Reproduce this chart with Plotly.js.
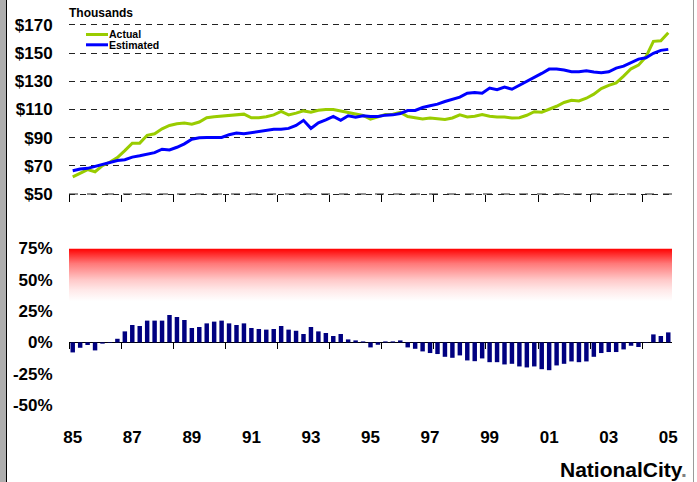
<!DOCTYPE html>
<html>
<head>
<meta charset="utf-8">
<script src="https://cdn.plot.ly/plotly-3.0.1.min.js"></script>
<style>
  html, body { margin: 0; padding: 0; background: #ffffff; }
  #chart { width: 697px; height: 482px; }
</style>
</head>
<body>
<div id="chart"></div>
<script>
// ---------- DATA (quarterly, 1985 Q1 .. 2005 Q1) ----------
const actual = [
  62.1, 64.9, 67.3, 65.8, 70.1, 72.7, 75.9, 80.8, 86.1, 86.1,
  91.7, 92.8, 96.3, 98.7, 99.9, 100.4, 99.6, 101.1, 104.1, 104.8,
  105.3, 106.0, 106.0, 106.7, 104.1, 104.1, 104.8, 106.2, 108.6, 106.2,
  107.4, 109.0, 108.1, 109.5, 110.0, 110.0, 109.0, 107.9, 106.4, 105.8,
  103.2, 104.7, 106.4, 106.6, 107.9, 105.0, 104.0, 103.3, 104.0, 103.3,
  102.9, 104.0, 106.2, 104.7, 105.2, 106.4, 105.2, 104.7, 104.7, 104.0,
  104.2, 105.9, 108.4, 108.1, 110.0, 112.3, 115.0, 116.6, 116.1, 118.0,
  120.9, 124.9, 127.1, 128.9, 133.7, 138.9, 141.5, 147.4, 158.4, 158.8,
  164.5
];
const estimated = [
  66.5, 67.7, 68.2, 69.6, 71.3, 72.7, 73.8, 74.3, 76.2, 77.1,
  78.3, 79.4, 81.8, 81.3, 83.2, 85.6, 88.9, 90.0, 90.1, 90.1,
  90.1, 92.1, 93.3, 92.8, 93.5, 94.7, 95.2, 95.9, 95.9, 96.6,
  98.7, 102.3, 96.6, 100.6, 102.7, 105.1, 102.3, 105.5, 104.6, 105.5,
  105.0, 105.0, 106.0, 106.2, 107.2, 109.3, 109.3, 111.4, 112.6, 113.8,
  115.7, 117.5, 118.8, 121.6, 122.1, 121.6, 125.2, 124.0, 125.9, 124.4,
  127.1, 130.1, 132.5, 135.6, 138.7, 138.7, 138.0, 136.8, 136.8, 137.5,
  136.6, 136.1, 136.8, 139.4, 140.8, 143.2, 145.8, 146.7, 149.9, 152.0,
  152.7
];
// over/under valuation, percent
const valuation = [
  -8.0, -4.3, -2.1, -6.4, -1.0, -0.5, 2.9, 8.8, 13.9, 13.1,
  17.4, 17.4, 17.4, 21.9, 20.3, 17.9, 11.5, 12.3, 15.2, 16.6,
  17.4, 15.2, 13.9, 15.2, 11.5, 10.7, 10.2, 10.7, 13.1, 10.2,
  9.3, 6.7, 12.3, 8.8, 7.5, 5.1, 6.7, 2.4, 1.6, 0.8,
  -4.0, -1.9, 0.8, 0.8, 1.6, -4.0, -5.1, -7.2, -8.5, -9.3,
  -11.5, -12.3, -10.4, -14.4, -15.0, -12.8, -15.8, -15.8, -17.6, -17.1,
  -19.2, -20.0, -19.2, -21.4, -22.2, -18.4, -17.1, -15.2, -15.8, -15.2,
  -11.5, -8.5, -7.7, -7.7, -5.6, -2.7, -3.7, 0.3, 6.4, 5.1,
  8.0
];
const yearLabels = ['85', '87', '89', '91', '93', '95', '97', '99', '01', '03', '05'];
const yearLabelPos = [0, 8, 16, 24, 32, 40, 48, 56, 64, 72, 80];
const priceTicks = [50, 70, 90, 110, 130, 150, 170];
const priceTickText = ['$50', '$70', '$90', '$110', '$130', '$150', '$170'];
const pctTicks = [-50, -25, 0, 25, 50, 75];
const pctTickText = ['-50%', '-25%', '0%', '25%', '50%', '75%'];
const seriesNames = ['Actual', 'Estimated'];

// ---------- helpers ----------
const W = 697, H = 482;
const px = p => p / W;
const py = p => 1 - p / H;
const idx = actual.map((_, i) => i);
const tickBounds = [];
for (let b = -0.5; b < idx.length - 1; b += 7) tickBounds.push(b);

const FONT = 'Liberation Sans, Arial, Helvetica, sans-serif';
const GREEN = '#99CC00', BLUE = '#0000FF', NAVY = '#000080';
const GRID = { color: '#222', width: 1, dash: '6px,5px' };

const plotLeft = 69, plotRight = 672;
const xDomain = [px(plotLeft), px(plotRight)];
const xRange = [-0.5, idx.length - 0.5];
// top panel: $50 at y=194px, $170 at y=25px; range padded so edge gridlines show
const topBase = 194, topTop = 25;
const topPad = 3;
const pxPerUnit = (topBase - topTop) / 120;
const topDomain = [py(topBase + topPad * pxPerUnit), py(topTop - topPad * pxPerUnit)];
const topRange = [priceTicks[0] - topPad, priceTicks[priceTicks.length - 1] + topPad];
const botDomain = [py(405), py(248.5)];
const botRange = [-50, 75];
const zeroPos = botDomain[0] + (0 - botRange[0]) / (botRange[1] - botRange[0]) * (botDomain[1] - botDomain[0]);
const zoneLow = 33, zoneHigh = 75;

const traces = [
  {
    x: [xRange[0], xRange[1], xRange[1], xRange[0], xRange[0]],
    y: [zoneLow, zoneLow, zoneHigh, zoneHigh, zoneLow],
    xaxis: 'x3', yaxis: 'y2',
    type: 'scatter', mode: 'lines', line: { width: 0 },
    fill: 'toself',
    fillgradient: {
      type: 'vertical',
      colorscale: [[0, '#FFFFFF'], [0.214, '#FFE8E8'], [0.405, '#FFC8C8'], [0.714, '#FF7878'], [1, '#FF0000']]
    },
    hoverinfo: 'skip', showlegend: false
  },
  // base rule of the top panel (lowest price tick), dashed like the gridlines
  {
    x: xRange, y: [priceTicks[0], priceTicks[0]], xaxis: 'x', yaxis: 'y',
    type: 'scatter', mode: 'lines',
    line: { color: GRID.color, width: GRID.width, dash: 'dash' },
    hoverinfo: 'skip', showlegend: false
  },
  {
    x: idx, y: valuation, xaxis: 'x2', yaxis: 'y2', type: 'bar',
    marker: { color: NAVY }, width: 0.6, showlegend: false
  },
  {
    x: idx, y: actual, xaxis: 'x', yaxis: 'y', type: 'scatter', mode: 'lines',
    name: seriesNames[0], line: { color: GREEN, width: 3 }, showlegend: false
  },
  {
    x: idx, y: estimated, xaxis: 'x', yaxis: 'y', type: 'scatter', mode: 'lines',
    name: seriesNames[1], line: { color: BLUE, width: 3 }, showlegend: false
  }
];

const tickFont = { family: FONT, size: 17, color: '#000', weight: 'bold' };
const legendFont = { family: FONT, size: 10.5, color: '#000', weight: 'bold' };

const layout = {
  width: W, height: H,
  margin: { l: 0, r: 0, t: 0, b: 0 },
  paper_bgcolor: '#FFFFFF', plot_bgcolor: 'rgba(0,0,0,0)',
  showlegend: false,
  xaxis: {
    domain: xDomain, range: xRange, anchor: 'free', position: py(topBase),
    tickmode: 'array', tickvals: tickBounds, ticks: 'outside', ticklen: 7, tickwidth: 1, tickcolor: '#000',
    showticklabels: false, showgrid: false, zeroline: false, showline: false, fixedrange: true
  },
  yaxis: {
    domain: topDomain, range: topRange, anchor: 'x',
    tickmode: 'array', tickvals: priceTicks, ticktext: priceTickText,
    ticks: 'outside', ticklen: 12, tickcolor: 'rgba(0,0,0,0)', tickfont: tickFont,
    showgrid: true, gridcolor: GRID.color, gridwidth: GRID.width, griddash: GRID.dash,
    zeroline: false, showline: false, fixedrange: true
  },
  xaxis2: {
    domain: xDomain, range: xRange, anchor: 'y2',
    tickmode: 'array', tickvals: yearLabelPos, ticktext: yearLabels,
    ticks: 'outside', ticklen: 17, tickcolor: 'rgba(0,0,0,0)', tickfont: tickFont,
    showgrid: false, zeroline: false, showline: false, fixedrange: true
  },
  yaxis2: {
    domain: botDomain, range: botRange, anchor: 'x2',
    tickmode: 'array', tickvals: pctTicks, ticktext: pctTickText,
    ticks: 'outside', ticklen: 12, tickcolor: 'rgba(0,0,0,0)', tickfont: tickFont,
    showgrid: false, zeroline: true, zerolinecolor: '#000', zerolinewidth: 1.5,
    showline: false, fixedrange: true
  },
  xaxis3: {
    overlaying: 'x2', anchor: 'free', position: zeroPos, range: xRange,
    tickmode: 'array', tickvals: tickBounds, ticks: 'outside', ticklen: 6, tickwidth: 1, tickcolor: '#000',
    showticklabels: false, showgrid: false, zeroline: false, showline: false, fixedrange: true
  },
  annotations: [
    { text: 'Thousands', xref: 'paper', yref: 'paper', x: px(67), y: py(13), xanchor: 'left', yanchor: 'middle',
      showarrow: false, font: { family: FONT, size: 12, color: '#000', weight: 'bold' } },
    { text: seriesNames[0], xref: 'paper', yref: 'paper', x: px(107.5), y: py(34.3), xanchor: 'left', yanchor: 'middle',
      borderpad: 0, showarrow: false, font: legendFont },
    { text: seriesNames[1], xref: 'paper', yref: 'paper', x: px(107.5), y: py(45.2), xanchor: 'left', yanchor: 'middle',
      borderpad: 0, showarrow: false, font: legendFont },
    { text: 'NationalCity<span style="color:#808080">.</span>', xref: 'paper', yref: 'paper',
      x: px(689), y: py(469), xanchor: 'right', yanchor: 'middle',
      showarrow: false, font: { family: FONT, size: 21, color: '#000', weight: 'bold' } }
  ],
  shapes: [
    { type: 'line', xref: 'paper', yref: 'paper', x0: px(86), x1: px(108), y0: py(34.5), y1: py(34.5),
      line: { color: GREEN, width: 3 } },
    { type: 'line', xref: 'paper', yref: 'paper', x0: px(86), x1: px(108), y0: py(44.8), y1: py(44.8),
      line: { color: BLUE, width: 3 } },
    { type: 'rect', xref: 'paper', yref: 'paper', x0: 0, x1: px(6), y0: 0, y1: 1,
      fillcolor: '#ADADAD', line: { width: 0 } },
    { type: 'line', xref: 'paper', yref: 'paper', x0: px(6.5), x1: px(6.5), y0: 0, y1: 1,
      line: { color: '#000', width: 1 } },
    { type: 'line', xref: 'paper', yref: 'paper', x0: px(693.5), x1: px(693.5), y0: 0, y1: 1,
      line: { color: '#9A9A9A', width: 1 } }
  ]
};

Plotly.newPlot('chart', traces, layout, { staticPlot: true, displayModeBar: false });
</script>
</body>
</html>
